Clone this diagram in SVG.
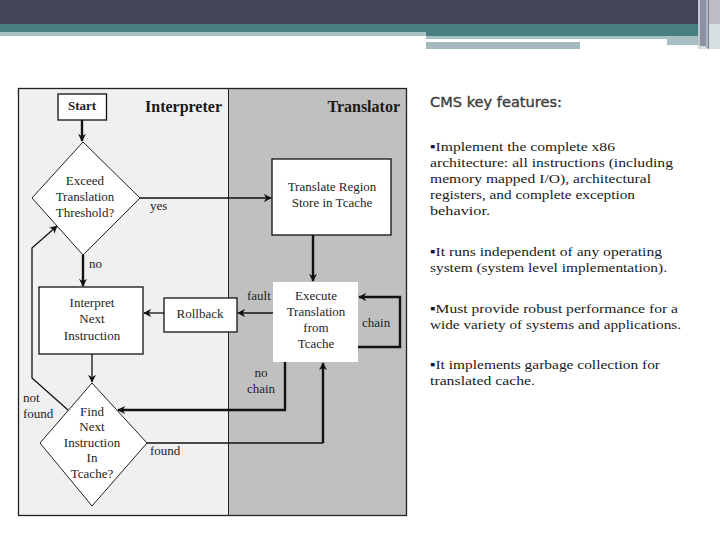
<svg xmlns="http://www.w3.org/2000/svg" width="720" height="540" viewBox="0 0 720 540">
<style>
.t{font-family:"Liberation Serif","Times New Roman",serif;font-size:13px;fill:#1e1e1e}
.h{font-family:"Liberation Serif","Times New Roman",serif;font-size:16px;font-weight:bold;fill:#1a1a1a}
.c{text-anchor:middle}
.b{font-weight:bold}
.box{fill:#fff;stroke:#111;stroke-width:1.3}
.dia{fill:#fff;stroke:#222;stroke-width:1}
.thin{fill:none;stroke:#111;stroke-width:1.3}
.thick{fill:none;stroke:#111;stroke-width:2.4}
.body{font-family:"Liberation Serif","Times New Roman",serif;font-size:13.5px;fill:#1a1a1a}
</style>
<defs>
<marker id="ah" viewBox="0 0 10 10" refX="9" refY="5" markerWidth="8" markerHeight="8" markerUnits="userSpaceOnUse" orient="auto">
<path d="M0,0 L10,5 L0,10 L3,5 z" fill="#111"/>
</marker>
</defs>
<rect width="720" height="540" fill="#fff"/>
<g id="header">
<rect x="0" y="0" width="720" height="24" fill="#434459"/>
<rect x="0" y="24" width="698" height="8" fill="#477F83"/>
<rect x="0" y="32" width="426" height="4" fill="#A6C1C4"/>
<rect x="426" y="32" width="272" height="4" fill="#477F83"/>
<rect x="426" y="36" width="272" height="3" fill="#A6BFC2"/>
<rect x="667" y="39" width="31" height="6" fill="#A6BFC2"/>
<rect x="426" y="42" width="154" height="7" fill="#A3B9BC"/>
<rect x="698" y="0" width="22" height="49" fill="#D3DFE1"/>
<rect x="698" y="0" width="22" height="24" fill="#BDBCC6"/>
<rect x="698" y="0" width="2" height="46" fill="#C4C6D0"/>
<rect x="700" y="0" width="6" height="46" fill="#8C92A3"/>
<rect x="706" y="0" width="2" height="48" fill="#B2B4BF"/>
<rect x="708" y="0" width="1" height="49" fill="#7A7F8F"/>
</g>
<g id="frame">
<rect x="18.5" y="88.5" width="210" height="427" fill="#F0F0F0"/>
<rect x="228.5" y="88.5" width="178" height="427" fill="#C0C0C0"/>
<rect x="18.5" y="88.5" width="388" height="427" fill="none" stroke="#222" stroke-width="1.3"/>
<line x1="228.5" y1="88.5" x2="228.5" y2="515.5" stroke="#222" stroke-width="1"/>
<text class="h" x="145" y="112">Interpreter</text>
<text class="h" x="400" y="112" text-anchor="end">Translator</text>
</g>
<g id="connectors">
<path class="thick" d="M82,120 V141" marker-end="url(#ah)"/>
<path class="thin" d="M140,198 H271" marker-end="url(#ah)"/>
<path class="thick" d="M313,235 V281" marker-end="url(#ah)"/>
<path class="thick" d="M358,347 H400 V297 H359" marker-end="url(#ah)"/>
<path class="thin" d="M273,313 H238" marker-end="url(#ah)"/>
<path class="thin" d="M164,313 H144" marker-end="url(#ah)"/>
<path class="thick" d="M83,255 V286" marker-end="url(#ah)"/>
<path class="thin" d="M92,354 V382" marker-end="url(#ah)"/>
<path class="thin" d="M68,410 L32,378 V248 L57,226" marker-end="url(#ah)"/>
<path class="thick" d="M285,362 V410 H118" marker-end="url(#ah)"/>
<path class="thin" d="M147,443 H323"/>
<path class="thick" d="M323,443 V363" marker-end="url(#ah)"/>
<text class="t" x="150" y="210">yes</text>
<text class="t" x="89" y="268">no</text>
<text class="t" x="247" y="300">fault</text>
<text class="t" x="362" y="327">chain</text>
<text class="t c" x="261" y="377">no</text>
<text class="t c" x="261" y="393">chain</text>
<text class="t" x="23" y="402">not</text>
<text class="t" x="23" y="418">found</text>
<text class="t" x="150" y="455">found</text>
</g>
<g id="start">
<rect class="box" x="58" y="94" width="48.5" height="26"/>
<text class="t c b" x="82" y="110">Start</text>
</g>
<g id="threshold">
<polygon class="dia" points="83,142 140,198 83,255 32,198"/>
<text class="t c" x="85" y="185">Exceed</text>
<text class="t c" x="85" y="201">Translation</text>
<text class="t c" x="85" y="217">Threshold?</text>
</g>
<g id="translate">
<rect class="box" x="272" y="159" width="119" height="76"/>
<text class="t c" x="332" y="191">Translate Region</text>
<text class="t c" x="332" y="207">Store in Tcache</text>
</g>
<g id="execute">
<rect x="273" y="282" width="85" height="80" fill="#fff"/>
<text class="t c" x="316" y="300">Execute</text>
<text class="t c" x="316" y="316">Translation</text>
<text class="t c" x="316" y="332">from</text>
<text class="t c" x="316" y="348">Tcache</text>
</g>
<g id="rollback">
<rect class="box" x="164" y="298" width="73" height="34"/>
<text class="t c" x="200" y="318">Rollback</text>
</g>
<g id="interpret">
<rect class="box" x="39" y="287" width="104" height="67"/>
<text class="t c" x="92" y="307">Interpret</text>
<text class="t c" x="92" y="323">Next</text>
<text class="t c" x="92" y="340">Instruction</text>
</g>
<g id="find">
<polygon class="dia" points="92,383 147,443 92,506 40,443"/>
<text class="t c" x="92" y="416">Find</text>
<text class="t c" x="92" y="431">Next</text>
<text class="t c" x="92" y="447">Instruction</text>
<text class="t c" x="92" y="462">In</text>
<text class="t c" x="92" y="478">Tcache?</text>
</g>
<g id="features">
<text x="430" y="107" font-family="DejaVu Sans,Verdana,sans-serif" font-size="13.5" fill="#3c3c3c" stroke="#3c3c3c" stroke-width="0.35" textLength="132" lengthAdjust="spacingAndGlyphs">CMS key features:</text>
<text class="body" x="430" y="151" textLength="185" lengthAdjust="spacingAndGlyphs">▪Implement the complete x86</text>
<text class="body" x="430" y="167" textLength="243" lengthAdjust="spacingAndGlyphs">architecture: all  instructions (including</text>
<text class="body" x="430" y="183" textLength="221" lengthAdjust="spacingAndGlyphs">memory mapped I/O), architectural</text>
<text class="body" x="430" y="199" textLength="205" lengthAdjust="spacingAndGlyphs">registers, and complete exception</text>
<text class="body" x="430" y="215" textLength="60" lengthAdjust="spacingAndGlyphs">behavior.</text>
<text class="body" x="430" y="256" textLength="232" lengthAdjust="spacingAndGlyphs">▪It runs independent of any operating</text>
<text class="body" x="430" y="272" textLength="237" lengthAdjust="spacingAndGlyphs">system (system level implementation).</text>
<text class="body" x="430" y="313" textLength="248" lengthAdjust="spacingAndGlyphs">▪Must provide  robust performance for a</text>
<text class="body" x="430" y="329" textLength="251" lengthAdjust="spacingAndGlyphs">wide variety of systems and applications.</text>
<text class="body" x="430" y="369" textLength="230" lengthAdjust="spacingAndGlyphs">▪It implements garbage collection for</text>
<text class="body" x="430" y="385" textLength="105" lengthAdjust="spacingAndGlyphs">translated cache.</text>
</g>
</svg>
